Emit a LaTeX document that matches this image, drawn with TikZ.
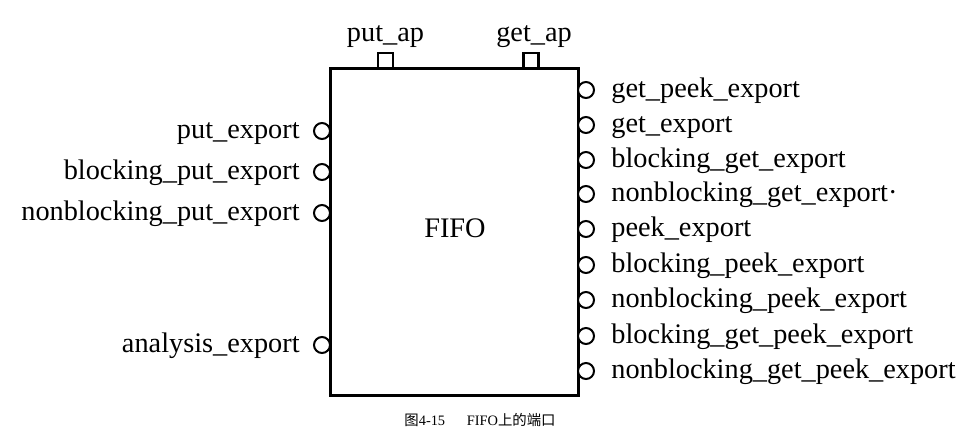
\documentclass[tikz,border=0pt]{standalone}
\usepackage{fontspec}
\setmainfont{Liberation Serif}
\newfontfamily\cjk{Noto Sans CJK SC}
\begin{document}
\begin{tikzpicture}[x=0.5pt,y=-0.5pt,
  lbl/.style={inner sep=0pt,font=\fontsize{14.15pt}{17pt}\selectfont},
  port/.style={circle,draw,line width=1pt,inner sep=0pt,minimum size=8pt,fill=white},
  apbox/.style={rectangle,draw,line width=1.25pt,inner sep=0pt,minimum width=7.5pt,minimum height=7.5pt},
  fifobox/.style={rectangle,draw,line width=1.5pt,inner sep=0pt,minimum width=124pt,minimum height=163.5pt}]
\useasboundingbox (0,0) rectangle (972,446);
\fill[white] (0,0) rectangle (972,446);
% top access ports
\node[apbox] (putap) at (385.5,60.5) {};
\node[apbox] (getap) at (531,60.5) {};
% main box
\node[fifobox] (fifo) at (454,231.5) {};
\node[lbl] (fifolbl) at (455,228) {FIFO};
\node[lbl,anchor=base] (putaplbl) at ([shift={(0,-10)}]putap.north) {put\_ap};
\node[lbl,anchor=base] (getaplbl) at ([shift={(3,-10)}]getap.north) {get\_ap};
% left ports
\foreach \n/\y/\t in {l1/131/put\_export, l2/172/blocking\_put\_export, l3/213/nonblocking\_put\_export, l4/345/analysis\_export}{
  \node[port] (\n) at (322,\y) {};
  \node[lbl,anchor=base east] (\n t) at ([shift={(-13,7)}]\n.west) {\t};
}
% right ports
\foreach \n/\y/\t in {r1/90/get\_peek\_export, r2/125/get\_export, r3/160/blocking\_get\_export, r4/194/nonblocking\_get\_export·, r5/229/peek\_export, r6/265/blocking\_peek\_export, r7/300/nonblocking\_peek\_export, r8/336/blocking\_get\_peek\_export, r9/371/nonblocking\_get\_peek\_export}{
  \node[port] (\n) at (586,\y) {};
  \node[lbl,anchor=base west] (\n t) at ([shift={(16,7)}]\n.east) {\t};
}
% caption
\node[inner sep=0pt,font=\fontsize{7.2pt}{8.5pt}\selectfont] (cap) at (480,420) {{\cjk 图}4-15\hspace{1.5em}FIFO{\cjk 上的端口}};
\end{tikzpicture}
\end{document}
